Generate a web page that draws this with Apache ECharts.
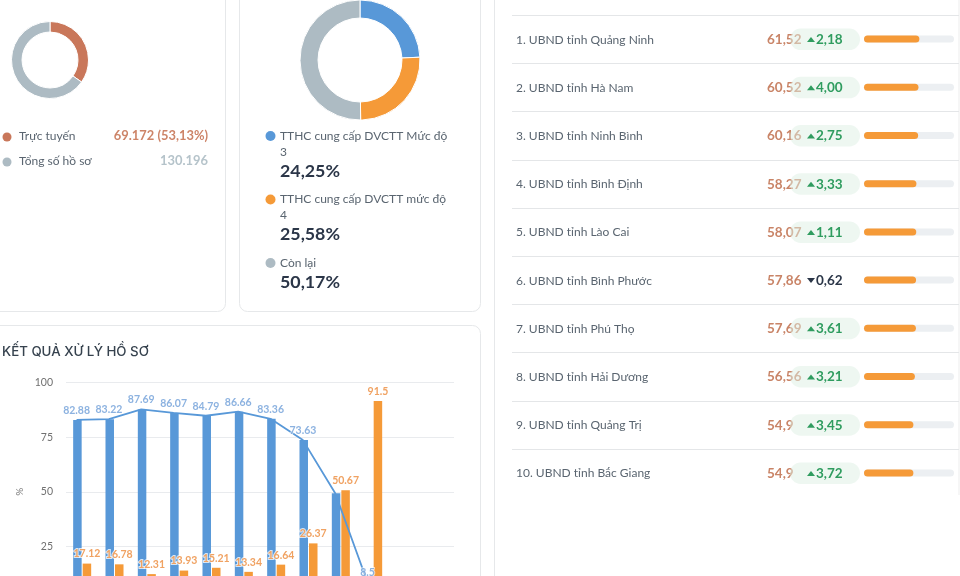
<!DOCTYPE html>
<html><head><meta charset="utf-8">
<style>html,body{margin:0;padding:0;background:#fff}#c{width:960px;height:576px}</style>
<script src="https://cdn.jsdelivr.net/npm/echarts@6/dist/echarts.min.js"></script>
</head><body><div id="c"></div>
<script>
// ---- data ----
const onlineLabels = ['Trực tuyến', 'Tổng số hồ sơ'];
const onlineValues = [69172, 130196];
const onlineTexts = ['69.172 (53,13%)', '130.196'];

const levelLabels = [['TTHC cung cấp DVCTT Mức độ', '3'], ['TTHC cung cấp DVCTT mức độ', '4'], ['Còn lại']];
const levelValues = [24.25, 25.58, 50.17];
const levelTexts = ['24,25%', '25,58%', '50,17%'];

const resultCategories = ['1', '2', '3', '4', '5', '6', '7', '8', '9', '10', '11', '12'];
const blueValues = [82.88, 83.22, 87.69, 86.07, 84.79, 86.66, 83.36, 73.63, 49.33, 8.5, null, null];
const orangeValues = [17.12, 16.78, 12.31, 13.93, 15.21, 13.34, 16.64, 26.37, 50.67, 91.5, null, null];
const yTicks = [0, 25, 50, 75, 100];

const rankNames = ['1. UBND tỉnh Quảng Ninh', '2. UBND tỉnh Hà Nam', '3. UBND tỉnh Ninh Bình', '4. UBND tỉnh Bình Định', '5. UBND tỉnh Lào Cai', '6. UBND tỉnh Bình Phước', '7. UBND tỉnh Phú Thọ', '8. UBND tỉnh Hải Dương', '9. UBND tỉnh Quảng Trị', '10. UBND tỉnh Bắc Giang'];
const rankScores = [61.52, 60.52, 60.16, 58.27, 58.07, 57.86, 57.69, 56.56, 54.9, 54.9];
const rankDeltas = [2.18, 4.00, 2.75, 3.33, 1.11, -0.62, 3.61, 3.21, 3.45, 3.72];

// ---- style ----
const FONT = 'Lato,"Open Sans","Noto Sans",sans-serif';
const TITLE_FONT = 'Inter,"Noto Sans",sans-serif';
const BLUE = '#5898d8', ORANGE = '#f59a38', GREY = '#adbbc3', RUST = '#c9775a', BORDER = '#e6e8ea';
const TXT = '#5a6570', DARK = '#2b3648';

const g = [];
function card(x, y, w, h) {
  g.push({type: 'rect', silent: true, z: 0, shape: {x: x + .5, y: y + .5, width: w, height: h, r: 8},
    style: {fill: '#fff', stroke: BORDER, lineWidth: 1}});
}
function text(t, x, y, size, color, weight, align, z, font) {
  g.push({type: 'text', silent: true, z: z || 5, x, y,
    style: {text: t, fontSize: size, fontFamily: font || FONT, fontWeight: weight || 400, fill: color, align: align || 'left', verticalAlign: 'middle'}});
}
function dot(x, y, r, color) {
  g.push({type: 'circle', silent: true, z: 5, shape: {cx: x, cy: y, r}, style: {fill: color}});
}

card(-20, -20, 245, 331);
card(239, -20, 241, 331);
card(-20, 325, 500, 300);
card(494, -20, 500, 640);
g.push({type: 'rect', silent: true, z: 1, shape: {x: 958, y: 0, width: 2, height: 495}, style: {fill: '#f6f6f6'}});

// card 1 legend
[[137, RUST, '#cd8468'], [162, GREY, '#b5c3ca']].forEach((s, i) => {
  dot(7, s[0], 4.5, s[1]);
  text(onlineLabels[i], 19, s[0] - 1, 12, TXT);
  text(onlineTexts[i], 208, s[0] - 1, 12.9, s[2], 700, 'right');
});

// card 2 legend
[[136, BLUE], [199.5, ORANGE], [263, GREY]].forEach((s, i) => {
  dot(270.5, s[0], 5, s[1]);
  levelLabels[i].forEach((l, k) => text(l, 280, s[0] + k * 16, 12, TXT));
  text(levelTexts[i], 280, s[0] + (levelLabels[i].length === 2 ? 35 : 19.5), 17.8, DARK, 700);
});

// card 3 title
text('KẾT QUẢ XỬ LÝ HỒ SƠ', 2, 351.5, 13.3, '#36424e', 500, 'left', 5, TITLE_FONT);

// ranking list
const rowStep = 48.2, rowTop = 15;
rankNames.forEach((n, i) => {
  const sepY = Math.round(rowTop + i * rowStep) + .5, cy = rowTop + (i + .5) * rowStep;
  g.push({type: 'line', silent: true, z: 2, shape: {x1: 512, y1: sepY, x2: 959, y2: sepY}, style: {stroke: '#e4e6e8', lineWidth: 1}});
  text(n, 516, cy + .7, 12, TXT);
  text(String(rankScores[i]).replace('.', ','), 767, cy + .5, 13.5, '#c98467', 700, 'left', 5);
  const d = rankDeltas[i], up = d > 0, col = up ? '#2f9c5f' : DARK;
  if (up) g.push({type: 'rect', silent: true, z: 6, shape: {x: 790, y: cy - 10.5, width: 70, height: 21.5, r: 10.75}, style: {fill: '#deefe4', opacity: .5}});
  g.push({type: 'polygon', silent: true, z: 7, shape: {points: up
    ? [[807, cy + 3], [815, cy + 3], [811, cy - 2]]
    : [[807, cy - 2], [815, cy - 2], [811, cy + 3]]}, style: {fill: col}});
  text(Math.abs(d).toFixed(2).replace('.', ','), 816, cy + .5, 13.5, col, 700, 'left', 7);
});

const valueLabel = (color) => ({show: true, position: 'top', distance: 4, color, fontSize: 10.5, fontFamily: FONT, fontWeight: 700,
  textBorderColor: 'rgba(255,255,255,.75)', textBorderWidth: 2});

const option = {
  animation: false,
  backgroundColor: '#fff',
  graphic: {elements: g},
  grid: [
    {left: 66, top: 382.5, width: 388, height: 218.5, outerBoundsMode: 'none'},
    {left: 60.4, top: 382.5, width: 388, height: 218.5, outerBoundsMode: 'none'},
    {left: 864, top: rowTop, width: 90, height: rowStep * rankNames.length, outerBoundsMode: 'none'}
  ],
  xAxis: [
    {type: 'category', gridIndex: 0, data: resultCategories, axisLine: {show: false}, axisTick: {show: false}, axisLabel: {show: false}},
    {type: 'category', gridIndex: 1, data: resultCategories, show: false},
    {type: 'value', gridIndex: 2, min: 0, max: 100, show: false}
  ],
  yAxis: [
    {type: 'value', gridIndex: 0, min: yTicks[0], max: yTicks[yTicks.length - 1], interval: yTicks[1] - yTicks[0], name: '%', nameLocation: 'middle', nameGap: 41,
     nameTextStyle: {color: '#777', fontSize: 10, fontFamily: FONT},
     axisLine: {show: false}, axisTick: {show: false},
     axisLabel: {color: '#707070', fontSize: 10.5, margin: 13, fontFamily: FONT},
     splitLine: {lineStyle: {color: '#e9ebee', width: 1}}},
    {type: 'value', gridIndex: 1, min: yTicks[0], max: yTicks[yTicks.length - 1], show: false},
    {type: 'category', gridIndex: 2, data: rankNames, inverse: true, show: false}
  ],
  series: [
    {type: 'pie', center: [50, 60], radius: [28, 38.5], startAngle: 90, silent: true, label: {show: false}, labelLine: {show: false},
     itemStyle: {borderColor: '#fff', borderWidth: 1},
     data: onlineValues.map((v, i) => ({name: onlineLabels[i], value: v, itemStyle: {color: [RUST, GREY][i]}}))},
    {type: 'pie', center: [360, 60], radius: [42, 60], startAngle: 90, silent: true, label: {show: false}, labelLine: {show: false},
     itemStyle: {borderColor: '#fff', borderWidth: 1},
     data: levelValues.map((v, i) => ({name: levelLabels[i].join(' '), value: v, itemStyle: {color: [BLUE, ORANGE, GREY][i]}}))},
    {type: 'bar', xAxisIndex: 0, yAxisIndex: 0, data: blueValues, barWidth: 8.5, barGap: '12%', itemStyle: {color: BLUE}, z: 2},
    {type: 'bar', xAxisIndex: 0, yAxisIndex: 0, data: orangeValues, barWidth: 8.5, itemStyle: {color: ORANGE}, z: 2, label: valueLabel('#f0a262')},
    {type: 'line', xAxisIndex: 1, yAxisIndex: 1, data: blueValues, showSymbol: false, symbol: 'none', lineStyle: {color: BLUE, width: 1.8}, z: 3, connectNulls: false},
    {type: 'scatter', xAxisIndex: 1, yAxisIndex: 1, symbolSize: 0, z: 4,
     data: blueValues.map((v, i) => (i === 8 ? null : v)), label: valueLabel('#6f9fd8')},
    {type: 'bar', xAxisIndex: 2, yAxisIndex: 2, data: rankScores, barWidth: 7, showBackground: true,
     backgroundStyle: {color: '#eceff2', borderRadius: 3.5}, itemStyle: {color: ORANGE, borderRadius: 3.5}, z: 4}
  ]
};
echarts.init(document.getElementById('c'), null, {renderer: 'canvas'}).setOption(option);
</script></body></html>
